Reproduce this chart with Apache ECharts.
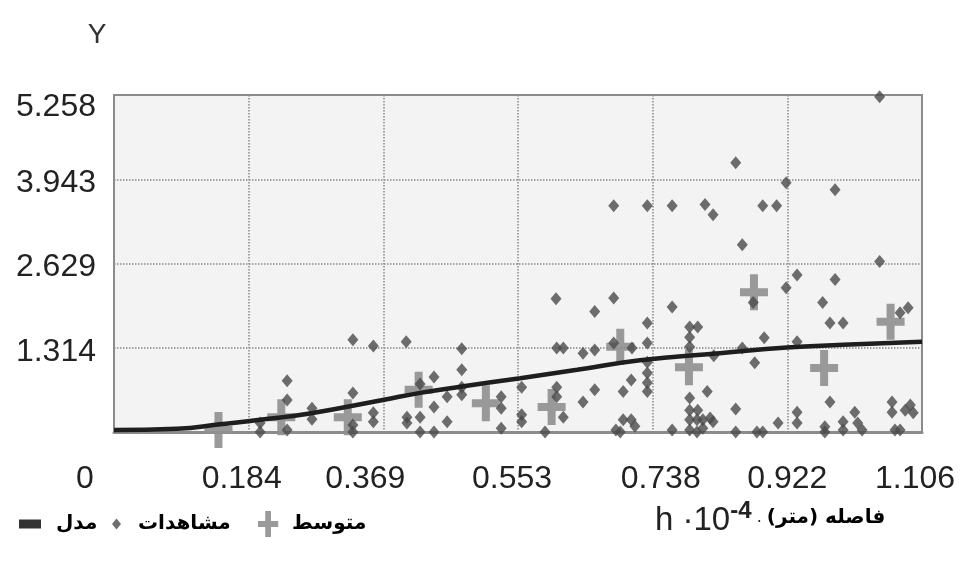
<!DOCTYPE html>
<html><head><meta charset="utf-8">
<script src="https://cdn.jsdelivr.net/npm/echarts@6/dist/echarts.min.js"></script>
<style>html,body{margin:0;padding:0;background:#fff}#c{width:964px;height:561px}</style>
</head><body><div id="c"></div><script>
// ---- tick labels ----
const xTickLabels = ['0','0.184','0.369','0.553','0.738','0.922','1.106'];
const yTickLabels = ['0','1.314','2.629','3.943','5.258'];
// ---- model (fitted curve) ----
const modelX = [0.000,0.086,0.145,0.200,0.268,0.368,0.419,0.476,0.556,0.634,0.720,0.829,0.921,0.998,1.106];
const modelY = [0.03,0.05,0.12,0.19,0.29,0.50,0.61,0.71,0.84,0.97,1.12,1.23,1.32,1.36,1.41];
// ---- mean (average per lag) ----
const meanX = [0.143,0.229,0.320,0.417,0.509,0.599,0.693,0.787,0.876,0.972,1.063];
const meanY = [0.03,0.23,0.23,0.66,0.45,0.39,1.33,1.01,2.18,1.00,1.72];
// ---- observations ----
const obsX = [0.200,0.200,0.237,0.237,0.237,0.271,0.271,0.327,0.355,0.400,0.476,0.327,0.327,0.327,0.355,0.355,0.401,0.401,0.419,0.419,
0.419,0.438,0.438,0.438,0.456,0.456,0.476,0.476,0.476,0.530,0.530,0.530,0.558,0.558,0.558,0.684,0.730,0.764,0.809,0.820,
0.605,0.658,0.684,0.764,0.730,0.788,0.799,0.788,0.788,0.606,0.615,0.642,0.658,0.684,0.730,0.709,0.730,0.730,0.730,0.821,
0.606,0.606,0.615,0.590,0.642,0.658,0.697,0.708,0.687,0.697,0.708,0.713,0.693,0.764,0.788,0.788,0.799,0.788,0.798,0.806,
0.816,0.788,0.798,0.806,0.812,1.048,0.851,0.920,0.987,0.888,0.907,0.860,1.048,0.935,0.920,0.987,0.875,0.970,0.980,0.998,
1.087,1.076,0.890,0.935,0.860,0.877,0.980,0.851,0.820,0.851,0.880,0.888,0.909,0.935,0.935,0.973,0.973,0.998,0.998,1.014,
1.018,1.024,1.065,1.065,1.069,1.076,1.090,1.094,1.083,0.730];
const obsY = [0.14,0.00,0.80,0.50,0.03,0.37,0.20,1.44,1.34,1.41,1.30,0.61,0.11,0.00,0.30,0.16,0.23,0.14,0.75,0.23,
0.00,0.86,0.39,0.00,0.55,0.16,0.97,0.70,0.58,0.55,0.37,0.06,0.27,0.70,0.16,3.53,3.53,3.53,3.55,3.39,
2.08,1.88,2.09,1.95,1.70,1.64,1.64,1.48,1.33,1.31,1.31,1.23,1.28,1.39,1.39,1.31,0.92,0.77,0.63,1.19,
0.70,0.55,0.23,0.00,0.47,0.66,0.63,0.81,0.03,0.19,0.19,0.09,0.00,0.03,0.53,0.34,0.34,0.19,0.19,0.19,
0.22,0.03,0.00,0.06,0.63,5.23,4.20,3.89,3.78,3.53,3.53,2.92,2.66,2.45,2.25,2.38,2.02,2.02,1.70,1.70,
1.94,1.86,1.47,1.41,1.31,1.08,0.47,0.36,0.16,0.00,0.00,0.00,0.14,0.31,0.14,0.08,0.00,0.16,0.03,0.31,
0.14,0.03,0.47,0.31,0.03,0.03,0.42,0.30,0.34,1.09];

const legendNames = ['مدل','مشاهدات','متوسط'];
const xAxisTitle = 'فاصله (متر)';

const zip = (a,b) => a.map((v,i) => [v,b[i]]);
const xInterval = 1.106/6;
const yInterval = 5.258/4;
const numFont = "'Liberation Sans','Arimo',sans-serif";
const arFont = "'DejaVu Sans',sans-serif";
const plusPath = 'path://M10,0H18V14H28V22H18V36H10V22H0V14H10Z';

// per-label horizontal nudges for x labels (style only)
const xShift = [-29,-7,-18,-6,8,0,-7];
const xRich = {};
xShift.forEach((s,i)=>{ xRich['x'+i] = {fontFamily:numFont,fontSize:32,color:'#222',
  padding: s<0 ? [0,-2*s,0,0] : [0,0,0,2*s]}; });

const chart = echarts.init(document.getElementById('c'), null, {renderer:'canvas'});
chart.setOption({
  animation:false,
  backgroundColor:'#ffffff',
  grid:{left:114, top:95, right:42, bottom:129, show:true, backgroundColor:'#f3f3f3',
        borderColor:'#8c8c8c', borderWidth:2},
  xAxis:{type:'value', min:0, max:xInterval*6, interval:xInterval,
    axisLine:{show:true, lineStyle:{color:'#8c8c8c', width:3}},
    axisTick:{show:false},
    splitLine:{show:true, lineStyle:{color:'#8a8a8a', type:'dotted', width:1.5}},
    axisLabel:{margin:31, rich:xRich,
      formatter:(v)=>{const i=Math.round(v/xInterval); return '{x'+i+'|'+xTickLabels[i]+'}';}}
  },
  yAxis:{type:'value', min:0, max:yInterval*4, interval:yInterval,
    name:'Y', nameLocation:'end', nameGap:46,
    nameTextStyle:{fontFamily:numFont, fontSize:28, color:'#333', padding:[0,34,0,0]},
    axisLine:{show:false}, axisTick:{show:false},
    splitLine:{show:true, lineStyle:{color:'#8a8a8a', type:'dotted', width:1.5}},
    axisLabel:{margin:18, showMinLabel:false,
      rich:{a:{fontFamily:numFont,fontSize:32,color:'#222',padding:[8,0,0,0]},
            t:{fontFamily:numFont,fontSize:32,color:'#222',padding:[24,0,0,0]}},
      formatter:(v)=>{const i=Math.round(v/yInterval); return (i===4?'{t|':'{a|')+yTickLabels[i]+'}';}}
  },
  legend:[
    {data:[{name:legendNames[0], icon:'rect'}], left:14, top:509, itemWidth:22, itemHeight:9,
     textStyle:{fontFamily:arFont, fontWeight:'bold', fontSize:20, color:'#000', padding:[0,0,0,10]}},
    {data:[{name:legendNames[1], icon:'diamond'}], left:107, top:509, itemWidth:9, itemHeight:11,
     textStyle:{fontFamily:arFont, fontWeight:'bold', fontSize:20, color:'#000', padding:[0,0,0,12]}},
    {data:[{name:legendNames[2], icon:plusPath}], left:253, top:506, itemWidth:22, itemHeight:26,
     textStyle:{fontFamily:arFont, fontWeight:'bold', fontSize:20, color:'#000', padding:[0,0,0,8]}}
  ],
  graphic:[{type:'text', left:655, top:499, silent:true,
    style:{text:'{h|h ·10}{s|-4}{d| . }{ar|'+xAxisTitle+'\u200F}',
      rich:{h:{fontFamily:numFont,fontSize:33,fill:'#222',verticalAlign:'bottom'},
            s:{fontFamily:numFont,fontSize:24,fontWeight:'bold',fill:'#222',padding:[0,0,14,0],verticalAlign:'bottom'},
            d:{fontFamily:arFont,fontSize:16,fill:'#222'},
            ar:{fontFamily:arFont,fontSize:20,fontWeight:'bold',fill:'#000'}}}}],
  series:[
    {name:legendNames[2], type:'scatter', data:zip(meanX,meanY), symbol:plusPath, symbolSize:[28,36],
     itemStyle:{color:'#8f8f8f', opacity:0.9}, z:2},
    {name:legendNames[1], type:'scatter', data:zip(obsX,obsY), symbol:'diamond', symbolSize:[11,13],
     itemStyle:{color:'#4a4a4a'}, z:3},
    {name:legendNames[0], type:'line', data:zip(modelX,modelY), smooth:true, showSymbol:false, symbol:'none',
     lineStyle:{color:'#1e1e1e', width:4.5}, itemStyle:{color:'#333'}, z:4}
  ]
});
</script></body></html>
